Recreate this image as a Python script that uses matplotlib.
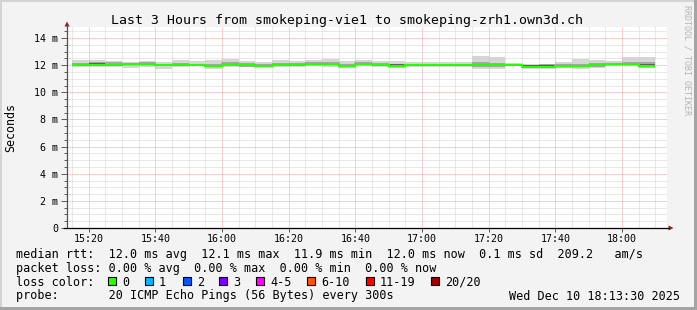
import pandas as pd
import numpy as np
import matplotlib
matplotlib.use('Agg')
import matplotlib.pyplot as plt
import matplotlib.dates as mdates
from matplotlib.patches import Rectangle, Polygon
from matplotlib.lines import Line2D

W, H, DPI = 697, 310, 100
MONO = 'DejaVu Sans Mono'

# 5 minute smokeping steps, first one starts 15:15
step_start = '2025-12-10 15:15'
median_ms = [12.00, 12.00, 12.03, 12.10, 12.10, 12.00, 12.00, 12.00, 11.95, 12.08,
             12.00, 11.95, 12.03, 12.03, 12.10, 12.10, 11.95, 12.10, 12.00, 11.97,
             12.00, 12.00, 12.00, 12.00, 12.00, 12.00, 12.00, 11.90, 11.90, 11.93,
             11.92, 11.98, 12.05, 12.10, 11.95]
smoke_hi = [12.37, 12.37, 12.29, 12.25, 12.29, 12.25, 12.37, 12.29, 12.37, 12.44,
            12.29, 12.25, 12.37, 12.29, 12.37, 12.47, 12.29, 12.37, 12.29, 12.29,
            12.25, 12.25, 12.25, 12.25, 12.66, 12.61, 12.17, 12.12, 12.12, 12.25,
            12.44, 12.37, 12.32, 12.61, 12.61]
smoke_lo = [11.88, 11.88, 11.88, 11.80, 11.88, 11.75, 11.88, 11.93, 11.75, 11.88,
            11.88, 11.88, 11.88, 11.88, 11.93, 11.88, 11.80, 11.93, 11.88, 11.80,
            11.88, 11.88, 11.88, 11.88, 11.75, 11.75, 11.93, 11.75, 11.75, 11.80,
            11.75, 11.80, 11.93, 11.93, 11.80]
inner_hi = [12.15, 12.22, 12.20, 12.18, 12.20, 12.12, 12.15, 12.12, 12.10, 12.20,
            12.15, 12.12, 12.15, 12.15, 12.20, 12.22, 12.12, 12.20, 12.15, 12.12,
            12.10, 12.10, 12.10, 12.10, 12.20, 12.18, 12.08, 12.02, 12.05, 12.08,
            12.10, 12.15, 12.18, 12.22, 12.20]
inner_lo = [11.95, 11.95, 11.95, 12.00, 12.00, 11.92, 11.95, 11.95, 11.85, 11.95,
            11.90, 11.90, 11.95, 11.95, 12.00, 12.00, 11.88, 12.02, 11.93, 11.88,
            11.93, 11.93, 11.93, 11.93, 11.90, 11.90, 11.95, 11.85, 11.85, 11.88,
            11.85, 11.90, 11.98, 12.00, 11.88]
core_hi = [12.08, 12.14, 12.12, 12.16, 12.17, 12.06, 12.08, 12.06, 12.03, 12.14,
           12.06, 12.03, 12.10, 12.09, 12.16, 12.16, 12.03, 12.16, 12.07, 12.05,
           12.06, 12.06, 12.06, 12.06, 12.08, 12.08, 12.06, 11.98, 11.98, 12.01,
           12.00, 12.06, 12.12, 12.17, 12.08]
core_lo = [11.97, 11.96, 11.98, 12.04, 12.05, 11.95, 11.97, 11.97, 11.88, 11.99,
           11.94, 11.92, 11.98, 11.98, 12.05, 12.05, 11.90, 12.05, 11.96, 11.91,
           11.96, 11.96, 11.96, 11.96, 11.95, 11.95, 11.97, 11.87, 11.87, 11.90,
           11.88, 11.94, 12.01, 12.05, 11.91]

y_ticks = [0, 2, 4, 6, 8, 10, 12, 14]
y_tick_labels = ['0', '2 m', '4 m', '6 m', '8 m', '10 m', '12 m', '14 m']

loss_labels = ['0', '1', '2', '3', '4-5', '6-10', '11-19', '20/20']
loss_colors = ['#26ff00', '#00b8ff', '#0059ff', '#7e00ff', '#ff00ff',
               '#ff5500', '#ff0000', '#a10000']
loss_box_x = [108, 145, 183, 219, 256, 307, 366, 431]

title = 'Last 3 Hours from smokeping-vie1 to smokeping-zrh1.own3d.ch'
legend_lines = [
    'median rtt:  12.0 ms avg  12.1 ms max  11.9 ms min  12.0 ms now  0.1 ms sd  209.2   am/s',
    'packet loss: 0.00 % avg  0.00 % max  0.00 % min  0.00 % now',
    'loss color:',
    'probe:       20 ICMP Echo Pings (56 Bytes) every 300s',
]
stamp = 'Wed Dec 10 18:13:30 2025'


def fx(px):
    return px / W


def fy(py):
    return 1 - py / H


fig = plt.figure(figsize=(W / DPI, H / DPI), dpi=DPI, facecolor='#f3f3f3')

# frame around the image
fig.add_artist(Rectangle((0, fy(2)), 1, 2 / H, transform=fig.transFigure, color='#d4d4d4', lw=0))
fig.add_artist(Rectangle((0, 0), fx(2), 1, transform=fig.transFigure, color='#d4d4d4', lw=0))
fig.add_artist(Rectangle((0, 0), 1, 3 / H, transform=fig.transFigure, color='#a4a4a4', lw=0))
fig.add_artist(Rectangle((fx(694), 0), 3 / W, 1, transform=fig.transFigure, color='#a4a4a4', lw=0))

ax = fig.add_axes([fx(67), fy(228), 600 / W, 201 / H])
ax.set_facecolor('white')

edges = mdates.date2num(pd.date_range(step_start, periods=len(median_ms) + 1, freq='5min'))
ax.stairs(smoke_hi, edges, baseline=smoke_lo, fill=True, color='#d6d6d6', lw=0, zorder=2)
ax.stairs(inner_hi, edges, baseline=inner_lo, fill=True, color='#a6a6a6', lw=0, zorder=3)
ax.stairs(core_hi, edges, baseline=core_lo, fill=True, color='#5c5c5c', lw=0, zorder=3)
ax.stairs(median_ms, edges, baseline=None, color='#26ff00', lw=1.5, zorder=4)

t0 = mdates.date2num(pd.Timestamp('2025-12-10 15:13:30'))
t1 = mdates.date2num(pd.Timestamp('2025-12-10 18:13:30'))
ax.set_xlim(t0, t1)
ax.set_ylim(0, 14 + 11 / 13.57)

ax.xaxis.set_major_locator(mdates.MinuteLocator(byminute=[0, 20, 40]))
ax.xaxis.set_minor_locator(mdates.MinuteLocator(byminute=range(0, 60, 5)))
ax.xaxis.set_major_formatter(mdates.DateFormatter('%H:%M'))
ax.set_yticks(y_ticks)
ax.set_yticklabels(y_tick_labels)
ax.yaxis.set_minor_locator(matplotlib.ticker.MultipleLocator(0.5))

# rrdtool paints the grid over the graph
ax.set_axisbelow(False)
ax.grid(which='minor', color='#d2d2d2', linestyle=(0, (1, 1)), lw=0.72, zorder=5)
ax.grid(which='major', color='#f2a0a0', linestyle=(0, (1, 1)), lw=0.72, zorder=5)

for sp in ax.spines.values():
    sp.set_visible(False)

ax.tick_params(axis='both', which='both', colors='#606060', labelcolor='black', width=0.72,
               labelsize=7.2)
ax.tick_params(axis='y', which='major', length=4, pad=2.2)
ax.tick_params(axis='y', which='minor', length=2)
ax.tick_params(axis='x', which='major', length=3, pad=1.6)
ax.tick_params(axis='x', which='minor', length=0)
for lab in ax.get_xticklabels() + ax.get_yticklabels():
    lab.set_family(MONO)

# axis lines with arrows
fig.add_artist(Line2D([fx(67), fx(67)], [fy(228), fy(26)], transform=fig.transFigure,
                      color='#505050', lw=0.9))
fig.add_artist(Line2D([fx(64), fx(669)], [fy(228), fy(228)], transform=fig.transFigure,
                      color='black', lw=0.9))
fig.add_artist(Polygon([[fx(64.5), fy(26.5)], [fx(69.5), fy(26.5)], [fx(67), fy(21.5)]],
                       closed=True, transform=fig.transFigure, color='#9a1c1c', lw=0))
fig.add_artist(Polygon([[fx(668.5), fy(225.5)], [fx(668.5), fy(230.5)], [fx(673.5), fy(228)]],
                       closed=True, transform=fig.transFigure, color='#9a1c1c', lw=0))

fig.text(fx(347), fy(24), title, family=MONO, fontsize=9.55, ha='center', va='baseline')
fig.text(fx(11), fy(127.5), 'Seconds', family=MONO, fontsize=8.4, rotation=90,
         ha='center', va='center')
fig.text(fx(687.5), fy(5), 'RRDTOOL / TOBI OETIKER', family=MONO, fontsize=6.0,
         rotation=-90, ha='center', va='top', color='#b4b4b4')

baselines = [258, 272, 285.5, 299.5]
for line, yb in zip(legend_lines, baselines):
    fig.text(fx(16), fy(yb), line, family=MONO, fontsize=8.5, va='baseline')
fig.text(fx(680), fy(baselines[3]), stamp, family=MONO, fontsize=8.5, va='baseline', ha='right')

for bx, lab, col in zip(loss_box_x, loss_labels, loss_colors):
    fig.add_artist(Rectangle((fx(bx), fy(284.5)), 8 / W, 8 / H, transform=fig.transFigure,
                             facecolor=col, edgecolor='black', lw=0.8))
    fig.text(fx(bx + 14), fy(baselines[2]), lab, family=MONO, fontsize=8.5, va='baseline')

fig.savefig('out.png', dpi=DPI, facecolor=fig.get_facecolor())
